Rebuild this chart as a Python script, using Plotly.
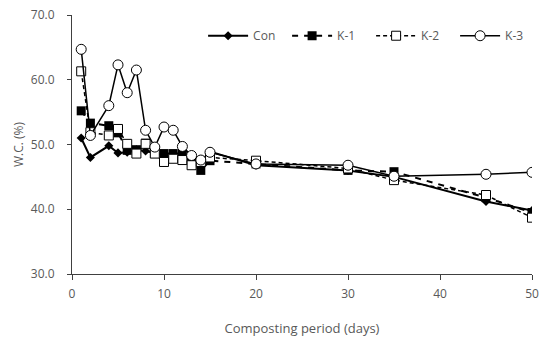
import plotly.graph_objects as go

days = [1, 2, 4, 5, 6, 7, 8, 9, 10, 11, 12, 13, 14, 15, 20, 30, 35, 45, 50]
con = [51.0, 48.0, 49.8, 48.7, 48.8, 49.2, 49.0, 48.7, 48.2, 47.8, 48.0, 47.3, 47.0, 48.9, 46.8, 46.0, 45.0, 41.2, 39.8]
k1 = [55.2, 53.3, 52.9, 51.8, 49.1, 49.2, 50.2, 48.6, 48.6, 48.6, 48.6, 47.5, 46.0, 47.5, 47.0, 46.0, 45.8, 41.8, 39.5]
k2 = [61.3, 51.9, 51.4, 52.4, 50.1, 48.6, 50.1, 48.6, 47.3, 47.8, 47.6, 46.8, 47.3, 48.0, 47.5, 46.3, 44.5, 42.2, 38.7]
k3 = [64.7, 51.4, 56.0, 62.3, 58.0, 61.5, 52.2, 49.6, 52.7, 52.2, 49.7, 48.3, 47.6, 48.8, 47.0, 46.8, 45.1, 45.4, 45.7]

FONT = "Open Sans"
GRAY = "#595959"

fig = go.Figure()
fig.add_trace(go.Scatter(x=days, y=con, name="Con", mode="lines+markers",
                         line=dict(color="black", width=2),
                         marker=dict(symbol="diamond", size=7, color="black")))
fig.add_trace(go.Scatter(x=days, y=k1, name="K-1", mode="lines+markers",
                         line=dict(color="black", width=2, dash="6px,6px"),
                         marker=dict(symbol="square", size=9, color="black")))
fig.add_trace(go.Scatter(x=days, y=k2, name="K-2", mode="lines+markers",
                         line=dict(color="black", width=1.5, dash="4px,3px"),
                         marker=dict(symbol="square", size=9, color="white",
                                     line=dict(color="black", width=1))))
fig.add_trace(go.Scatter(x=days, y=k3, name="K-3", mode="lines+markers",
                         line=dict(color="black", width=1.5),
                         marker=dict(symbol="circle", size=10, color="white",
                                     line=dict(color="black", width=1))))

fig.update_layout(
    width=540, height=340,
    margin=dict(l=72, r=8, t=15, b=66, autoexpand=False),
    paper_bgcolor="white", plot_bgcolor="white",
    font=dict(family=FONT, size=12, color=GRAY),
    showlegend=True,
    legend=dict(orientation="h", x=0.285, y=0.92, xanchor="left", yanchor="middle",
                font=dict(family=FONT, size=12, color=GRAY),
                bgcolor="rgba(0,0,0,0)", itemwidth=40, entrywidth=29,
                entrywidthmode="pixels", tracegroupgap=0),
    xaxis=dict(range=[0, 50], tickvals=[0, 10, 20, 30, 40, 50],
               showline=True, linecolor="#404040", linewidth=1,
               ticks="outside", ticklen=5, tickcolor="#404040",
               showgrid=False, zeroline=False, automargin=False,
               ticklabelstandoff=4,
               title=dict(text="Composting period (days)", standoff=22,
                          font=dict(family=FONT, size=13, color=GRAY))),
    yaxis=dict(range=[30, 70], tickvals=[30, 40, 50, 60, 70], tickformat=".1f",
               showline=True, linecolor="#404040", linewidth=1,
               ticks="outside", ticklen=4, tickcolor="#404040",
               showgrid=False, zeroline=False, automargin=False,
               ticklabelstandoff=10,
               title=dict(text="W.C. (%)", standoff=4,
                          font=dict(family=FONT, size=12, color=GRAY))),
)

fig.write_html("out.html")
